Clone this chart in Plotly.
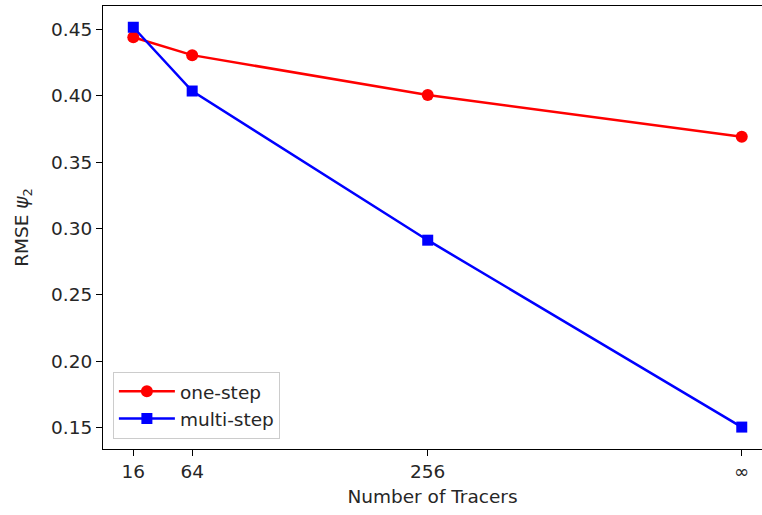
import plotly.graph_objects as go

# Tracer counts (∞ placed at 512 on the axis)
tracers = [16, 64, 256, 512]
tick_labels = ["16", "64", "256", "∞"]

one_step = [0.4440, 0.4305, 0.4005, 0.3690]
multi_step = [0.4515, 0.4035, 0.2912, 0.1505]

y_ticks = [0.15, 0.20, 0.25, 0.30, 0.35, 0.40, 0.45]
y_tick_labels = ["0.15", "0.20", "0.25", "0.30", "0.35", "0.40", "0.45"]

FONT = "DejaVu Sans"
FS = 18.5
TXT = "#262626"

fig = go.Figure()
fig.add_trace(go.Scatter(
    x=tracers, y=one_step, name="one-step", mode="lines+markers",
    line=dict(color="#ff0000", width=2.5),
    marker=dict(symbol="circle", size=12, color="#ff0000"),
))
fig.add_trace(go.Scatter(
    x=tracers, y=multi_step, name="multi-step", mode="lines+markers",
    line=dict(color="#0000ff", width=2.5),
    marker=dict(symbol="square", size=11, color="#0000ff"),
))

fig.update_layout(
    width=762, height=515,
    margin=dict(l=103, r=0, t=6, b=66),
    paper_bgcolor="white", plot_bgcolor="white",
    font=dict(family=FONT, size=FS, color=TXT),
    showlegend=True,
    legend=dict(
        x=0.015, y=0.023, xanchor="left", yanchor="bottom",
        bgcolor="rgba(255,255,255,0.8)", bordercolor="#cccccc", borderwidth=1,
        font=dict(family=FONT, size=FS, color=TXT),
        itemwidth=56, tracegroupgap=0,
    ),
    xaxis=dict(
        range=[-8.7, 528.5],
        tickmode="array", tickvals=tracers, ticktext=tick_labels,
        showgrid=False, zeroline=False,
        showline=True, linecolor="black", linewidth=1.2, mirror=True,
        ticks="outside", ticklen=6, tickcolor="black", tickwidth=1.2,
        tickfont=dict(size=FS, color=TXT),
        title=dict(text="Number of Tracers", font=dict(size=FS, color=TXT), standoff=8),
    ),
    yaxis=dict(
        range=[0.134, 0.4675],
        tickmode="array", tickvals=y_ticks, ticktext=y_tick_labels,
        showgrid=False, zeroline=False,
        showline=True, linecolor="black", linewidth=1.2,
        ticks="outside", ticklen=6, tickcolor="black", tickwidth=1.2,
        tickfont=dict(size=FS, color=TXT),
        title=dict(text="RMSE <i>ψ</i><sub>2</sub>", font=dict(size=FS, color=TXT), standoff=17),
    ),
)

fig.write_html("out.html")
